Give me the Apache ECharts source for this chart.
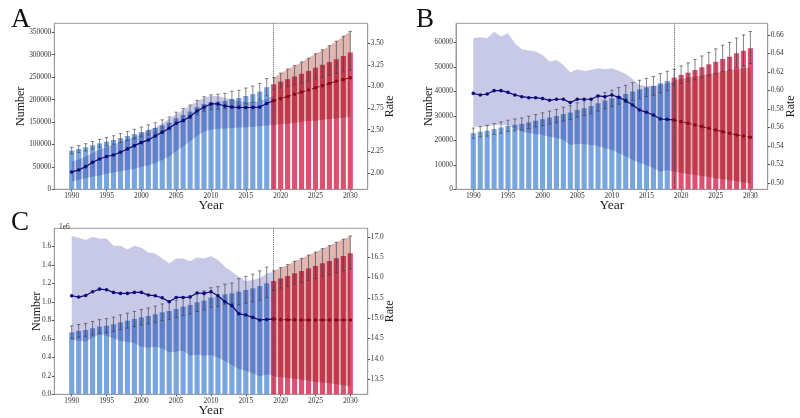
<!DOCTYPE html>
<html><head><meta charset="utf-8">
<script src="https://cdn.jsdelivr.net/npm/echarts@6/dist/echarts.min.js"></script>
<style>html,body{margin:0;padding:0;background:#fff}#c{width:800px;height:418px}</style>
</head><body><div id="c"></div>
<script>
// ---------- categories & ticks ----------
const axisYears = ['1988','1989','1990','1991','1992','1993','1994','1995','1996','1997','1998','1999','2000','2001','2002','2003','2004','2005','2006','2007','2008','2009','2010','2011','2012','2013','2014','2015','2016','2017','2018','2019','2020','2021','2022','2023','2024','2025','2026','2027','2028','2029','2030','2031','2032'];
const tickYears = [1990,1995,2000,2005,2010,2015,2020,2025,2030];
const histBarStart = 1990;   // bars 1990-2018
const projStart = 2019;      // projection 2019-2030
const splitYear = '2019';

// ---------- Panel A ----------
const numHistA = [86200,89900,93600,98100,102500,106300,110000,114400,118900,123300,127800,132300,136700,142700,148600,158300,165700,173100,182800,190200,193900,195400,197000,201500,203500,208000,212000,217500,227500];
const numProjA = [234000,240000,245500,251500,257500,264000,271000,277500,283500,290000,297000,305000];
const errLoHistA = [78900,82300,85600,89800,93800,97300,100600,104700,108800,112800,116900,121100,125100,130600,136000,144800,151600,158400,167300,174000,177400,178800,180300,184400,186200,190300,194000,199000,208200];
const errHiHistA = [93500,97500,101600,106400,111200,115300,119400,124100,129000,133800,138700,143500,148300,154800,161200,171800,179800,187800,198300,206400,210400,212000,213700,218600,220800,225700,230000,236000,246800];
const errLoProjA = [222000,226000,229000,233000,237000,241000,246000,250000,254000,258000,262000,266000];
const errHiProjA = [249000,259000,268000,276000,284000,292000,302000,311000,320000,330000,341000,352000];
const rateHistA = [2.01,2.035,2.073,2.123,2.162,2.19,2.208,2.239,2.278,2.316,2.351,2.382,2.428,2.47,2.517,2.575,2.605,2.652,2.717,2.76,2.798,2.798,2.775,2.762,2.757,2.757,2.758,2.762,2.803,2.835];
const rateProjA = [2.835,2.86,2.885,2.91,2.935,2.96,2.985,3.01,3.035,3.06,3.08,3.10];
const bandLoHistA = [1.90,1.92,1.94,1.955,1.97,1.99,2.005,2.02,2.035,2.05,2.07,2.09,2.115,2.15,2.19,2.25,2.31,2.37,2.43,2.48,2.50,2.51,2.515,2.52,2.525,2.53,2.535,2.54,2.55,2.555];
const bandHiHistA = [2.13,2.16,2.19,2.23,2.27,2.30,2.33,2.36,2.39,2.42,2.45,2.49,2.53,2.57,2.63,2.68,2.73,2.78,2.83,2.87,2.89,2.89,2.87,2.85,2.83,2.82,2.82,2.83,2.86,2.89];
const bandLoProjA = [2.555,2.565,2.57,2.58,2.59,2.60,2.605,2.615,2.625,2.63,2.64,2.65];
const bandHiProjA = [3.10,3.15,3.20,3.24,3.28,3.33,3.38,3.42,3.47,3.52,3.58,3.64];
const numTicksA = [0,50000,100000,150000,200000,250000,300000,350000];
const rateTicksA = [2.00,2.25,2.50,2.75,3.00,3.25,3.50];

// ---------- Panel B ----------
const numHistB = [22900,23500,23900,24600,25200,25900,26300,26700,27300,28000,28600,29300,29900,30700,31300,32400,33100,34000,35100,36200,37100,38100,38900,39900,40800,41600,42200,43300,44200];
const numProjB = [45600,46700,47600,48700,49800,51000,52100,53200,54100,55500,56500,57600];
const errLoHistB = [20800,21400,21700,22400,22900,23600,23900,24300,24800,25500,26000,26700,27200,27900,28500,29500,30100,30900,31900,32900,33800,34700,35400,36300,37100,37900,38400,39400,40200];
const errHiHistB = [25000,25600,26100,26800,27500,28200,28700,29100,29800,30500,31200,31900,32600,33500,34100,35300,36100,37100,38300,39500,40400,41500,42400,43500,44500,45300,46000,47200,48200];
const errLoProjB = [42400,43200,43900,44700,45500,46400,47200,48000,48700,49700,50400,51300];
const errHiProjB = [49000,50400,51600,53000,54400,55900,57300,58800,60000,61700,63000,64400];
const rateHistB = [0.5969,0.5951,0.5962,0.5998,0.5998,0.598,0.5951,0.5933,0.5922,0.5922,0.5912,0.5894,0.5905,0.5905,0.5869,0.5905,0.5905,0.5905,0.5941,0.5933,0.5951,0.5926,0.589,0.5843,0.5789,0.5764,0.5735,0.5692,0.5688,0.5681];
const rateProjB = [0.5681,0.5663,0.5645,0.5627,0.5609,0.5591,0.5573,0.5555,0.5537,0.5519,0.5508,0.5494];
const bandLoHistB = [0.5609,0.561,0.561,0.5627,0.5627,0.5627,0.559,0.5555,0.554,0.553,0.5519,0.550,0.549,0.5465,0.5411,0.5425,0.542,0.5411,0.540,0.5375,0.536,0.5321,0.529,0.5249,0.522,0.5195,0.516,0.5123,0.5141,0.5123];
const bandHiHistB = [0.6564,0.6575,0.6564,0.6636,0.6582,0.6618,0.651,0.6445,0.6431,0.642,0.6384,0.6312,0.633,0.6276,0.6193,0.6229,0.6211,0.6222,0.624,0.6229,0.624,0.6214,0.6178,0.6124,0.6059,0.6049,0.6049,0.6059,0.6078,0.6096];
const bandLoProjB = [0.5123,0.511,0.5098,0.5087,0.5075,0.5064,0.5052,0.504,0.5029,0.5018,0.5007,0.4996];
const bandHiProjB = [0.611,0.6125,0.614,0.615,0.6165,0.618,0.619,0.6205,0.622,0.623,0.624,0.625];
const numTicksB = [0,10000,20000,30000,40000,50000,60000];
const rateTicksB = [0.50,0.52,0.54,0.56,0.58,0.60,0.62,0.64,0.66];

// ---------- Panel C ----------
const numHistC = [670000,685000,695000,714000,732000,742000,757000,778000,796000,814000,832000,847000,865000,886000,901000,923000,948000,966000,995000,1013000,1045000,1056000,1081000,1092000,1110000,1128000,1146000,1171000,1200000];
const numProjC = [1225000,1254000,1279000,1308000,1333000,1362000,1387000,1416000,1441000,1470000,1495000,1524000];
const errLoHistC = [603000,617000,626000,643000,659000,668000,681000,700000,716000,733000,749000,762000,779000,797000,811000,831000,853000,869000,896000,912000,941000,950000,973000,983000,970000,985000,1000000,1020000,1045000];
const errHiHistC = [740000,755000,766000,787000,807000,818000,834000,858000,877000,897000,917000,934000,954000,977000,993000,1017000,1045000,1065000,1097000,1117000,1152000,1164000,1192000,1204000,1250000,1275000,1300000,1335000,1375000];
const errLoProjC = [1125000,1148000,1168000,1190000,1210000,1232000,1252000,1274000,1293000,1316000,1336000,1358000];
const errHiProjC = [1335000,1370000,1402000,1438000,1470000,1506000,1538000,1575000,1608000,1643000,1676000,1712000];
const rateHistC = [15.553,15.52,15.56,15.65,15.716,15.70,15.634,15.61,15.61,15.634,15.634,15.569,15.553,15.50,15.405,15.51,15.51,15.52,15.62,15.61,15.65,15.553,15.405,15.307,15.11,15.078,15.02,14.956,14.97,14.98];
const rateProjC = [14.98,14.965,14.96,14.96,14.955,14.955,14.955,14.955,14.955,14.955,14.955,14.955];
const bandLoHistC = [14.465,14.45,14.424,14.52,14.60,14.57,14.506,14.44,14.424,14.383,14.30,14.277,14.30,14.26,14.16,14.18,14.20,14.08,14.11,14.08,14.097,14.03,13.95,13.85,13.753,13.71,13.647,13.565,13.62,13.59];
const bandHiHistC = [17.02,16.975,16.92,17.0,16.96,16.96,16.78,16.78,16.69,16.78,16.73,16.615,16.59,16.47,16.345,16.47,16.47,16.40,16.49,16.47,16.526,16.43,16.264,16.14,16.02,15.91,15.94,15.98,16.10,16.14];
const bandLoProjC = [13.57,13.55,13.53,13.51,13.49,13.46,13.44,13.42,13.40,13.38,13.35,13.32];
const bandHiProjC = [16.16,16.24,16.31,16.40,16.47,16.55,16.62,16.71,16.78,16.86,16.94,17.02];
const numTicksC = [0,200000,400000,600000,800000,1000000,1200000,1400000,1600000];
const rateTicksC = [13.5,14.0,14.5,15.0,15.5,16.0,16.5,17.0];

// ---------- styling ----------
const FONT = 'Liberation Serif';
const TICK_FS = 7.4, NAME_FS = 12, YEAR_FS = 13.5;
const C_BLUE = '#79a5de', C_RED = '#dc5072';
const C_LAV = '#c8c8e7', C_ROSY = '#e0b6b1';
const C_NAVY = '#0b0b7a', C_DRED = '#8b0a14';
const C_ERR = '#3c3c48', C_FRAME = '#9a9a9a', C_TXT = '#333';

const panels = [
  {grid:{left:54.3, top:23.3, width:313.4, height:166}, numMax:370000, rateMin:1.811, rateMax:3.731,
   numTicks:numTicksA, rateTicks:rateTicksA, numFmt:v=>String(v), rateFmt:v=>v.toFixed(2),
   numGap:27, rateGap:16.5,
   numHist:numHistA, numProj:numProjA, eLH:errLoHistA, eHH:errHiHistA, eLP:errLoProjA, eHP:errHiProjA,
   rH:rateHistA, rP:rateProjA, bLH:bandLoHistA, bHH:bandHiHistA, bLP:bandLoProjA, bHP:bandHiProjA},
  {grid:{left:456, top:23.3, width:311.7, height:166}, numMax:67750, rateMin:0.4932, rateMax:0.6726,
   numTicks:numTicksB, rateTicks:rateTicksB, numFmt:v=>String(v), rateFmt:v=>v.toFixed(2),
   numGap:21, rateGap:17.3,
   numHist:numHistB, numProj:numProjB, eLH:errLoHistB, eHH:errHiHistB, eLP:errLoProjB, eHP:errHiProjB,
   rH:rateHistB, rP:rateProjB, bLH:bandLoHistB, bHH:bandHiHistB, bLP:bandLoProjB, bHP:bandHiProjB},
  {grid:{left:54.3, top:228.3, width:313.4, height:166}, numMax:1795000, rateMin:13.13, rateMax:17.21,
   numTicks:numTicksC, rateTicks:rateTicksC, numFmt:v=>(v/1e6).toFixed(1), rateFmt:v=>v.toFixed(1),
   numGap:11.6, rateGap:15.8,
   numHist:numHistC, numProj:numProjC, eLH:errLoHistC, eHH:errHiHistC, eLP:errLoProjC, eHP:errHiProjC,
   rH:rateHistC, rP:rateProjC, bLH:bandLoHistC, bHH:bandHiHistC, bLP:bandLoProjC, bHP:bandHiProjC}
];

function place(arr, startYear){
  const out = axisYears.map(()=> '-');
  const off = axisYears.indexOf(String(startYear));
  arr.forEach((v,i)=>{ out[off+i] = v; });
  return out;
}
function errData(lo, hi, startYear){
  const off = axisYears.indexOf(String(startYear));
  return lo.map((l,i)=>[off+i, l, hi[i]]);
}
function errItem(params, api){
  const x = api.value(0);
  const a = api.coord([x, api.value(1)]);
  const b = api.coord([x, api.value(2)]);
  const w = 1.7;
  const st = {stroke:C_ERR, lineWidth:0.8, opacity:0.8};
  return {type:'group', children:[
    {type:'line', shape:{x1:a[0],y1:a[1],x2:b[0],y2:b[1]}, style:st},
    {type:'line', shape:{x1:b[0]-w,y1:b[1],x2:b[0]+w,y2:b[1]}, style:st},
    {type:'line', shape:{x1:a[0]-w,y1:a[1],x2:a[0]+w,y2:a[1]}, style:st}
  ]};
}

const grid = [], xAxis = [], yAxis = [], series = [];
panels.forEach((p, k)=>{
  grid.push(Object.assign({show:true, borderColor:C_FRAME, borderWidth:1, containLabel:false, outerBoundsMode:'none'}, p.grid));
  xAxis.push({type:'category', gridIndex:k, data:axisYears, boundaryGap:true,
    name:'Year', nameLocation:'middle', nameGap:9.5, nameMoveOverlap:false,
    nameTextStyle:{fontFamily:FONT, fontSize:YEAR_FS, color:'#222'},
    axisLine:{show:true, lineStyle:{color:C_FRAME}},
    axisTick:{show:true, alignWithLabel:true, length:2, lineStyle:{color:'#555'}, interval:(i,v)=>tickYears.includes(+v)},
    axisLabel:{interval:(i,v)=>tickYears.includes(+v), fontFamily:FONT, fontSize:TICK_FS, color:C_TXT, margin:3.2},
    splitLine:{show:false}});
  yAxis.push({type:'value', gridIndex:k, position:'left', min:0, max:p.numMax,
    name:'Number', nameLocation:'middle', nameRotate:90, nameGap:p.numGap, nameMoveOverlap:false,
    nameTextStyle:{fontFamily:FONT, fontSize:NAME_FS, color:'#222'},
    axisLine:{show:true, lineStyle:{color:C_FRAME}},
    axisTick:{show:true, length:2.5, lineStyle:{color:'#555'}, customValues:p.numTicks},
    axisLabel:{fontFamily:FONT, fontSize:TICK_FS, color:C_TXT, margin:3, customValues:p.numTicks, formatter:p.numFmt},
    splitLine:{show:false}});
  yAxis.push({type:'value', gridIndex:k, position:'right', min:p.rateMin, max:p.rateMax,
    name:'Rate', nameLocation:'middle', nameRotate:90, nameGap:p.rateGap, nameMoveOverlap:false,
    nameTextStyle:{fontFamily:FONT, fontSize:NAME_FS, color:'#222'},
    axisLine:{show:true, lineStyle:{color:C_FRAME}},
    axisTick:{show:true, length:2.5, lineStyle:{color:'#555'}, customValues:p.rateTicks},
    axisLabel:{fontFamily:FONT, fontSize:TICK_FS, color:C_TXT, margin:3, customValues:p.rateTicks, formatter:p.rateFmt},
    splitLine:{show:false}});
  const yN = 2*k, yR = 2*k+1;

  // bars
  const hb = place(p.numHist, histBarStart), pb = place(p.numProj, projStart);
  const barData = axisYears.map((y,i)=>{
    if (hb[i] !== '-') return {value:hb[i], itemStyle:{color:C_BLUE}};
    if (pb[i] !== '-') return {value:pb[i], itemStyle:{color:C_RED}};
    return '-';
  });
  series.push({type:'bar', xAxisIndex:k, yAxisIndex:yN, data:barData, barWidth:'74%', z:1, silent:true,
    markLine:{silent:true, symbol:['none','none'], label:{show:false},
      lineStyle:{type:'dotted', color:'#444', width:0.9}, data:[{xAxis:splitYear}]}});

  // bands (multiply-blended stacked areas on the rate axis)
  const bands = [[p.bLH, p.bHH, projStart - p.bLH.length + 1, C_LAV], [p.bLP, p.bHP, projStart, C_ROSY]];
  bands.forEach(([lo, hi, start, col], j)=>{
    const st = 'band'+k+'_'+j;
    series.push({type:'line', xAxisIndex:k, yAxisIndex:yR, stack:st, data:place(lo, start),
      symbol:'none', lineStyle:{opacity:0}, silent:true, z:2});
    series.push({type:'line', xAxisIndex:k, yAxisIndex:yR, stack:st, data:place(hi.map((h,i)=>h-lo[i]), start),
      symbol:'none', lineStyle:{opacity:0}, areaStyle:{color:col, opacity:1}, silent:true, z:2, blendMode:'multiply'});
  });

  // error bars
  [[p.eLH, p.eHH, histBarStart], [p.eLP, p.eHP, projStart]].forEach(([lo, hi, start])=>{
    series.push({type:'custom', xAxisIndex:k, yAxisIndex:yN, data:errData(lo, hi, start),
      dimensions:['x','lo','hi'], encode:{x:0, y:[1,2]}, renderItem:errItem, silent:true, z:3});
  });

  // rate lines
  series.push({type:'line', xAxisIndex:k, yAxisIndex:yR, data:place(p.rH, projStart - p.rH.length + 1),
    symbol:'circle', symbolSize:3.6, lineStyle:{color:C_NAVY, width:1.2}, itemStyle:{color:C_NAVY}, silent:true, z:5});
  series.push({type:'line', xAxisIndex:k, yAxisIndex:yR, data:place(p.rP, projStart),
    symbol:'circle', symbolSize:3.6, lineStyle:{color:C_DRED, width:1.1, type:[3,2]}, itemStyle:{color:C_DRED}, silent:true, z:5});
});

const title = [
  {text:'A', left:6, top:1, textStyle:{fontFamily:FONT, fontSize:27, fontWeight:'normal', color:'#111'}},
  {text:'B', left:411, top:1, textStyle:{fontFamily:FONT, fontSize:27, fontWeight:'normal', color:'#111'}},
  {text:'C', left:6, top:204, textStyle:{fontFamily:FONT, fontSize:27, fontWeight:'normal', color:'#111'}},
  {text:'1e6', left:54, top:219, textStyle:{fontFamily:FONT, fontSize:TICK_FS, fontWeight:'normal', color:C_TXT}}
];

const chart = echarts.init(document.getElementById('c'), null, {renderer:'canvas'});
chart.setOption({backgroundColor:'#ffffff', animation:false, title, grid, xAxis, yAxis, series});
</script></body></html>
